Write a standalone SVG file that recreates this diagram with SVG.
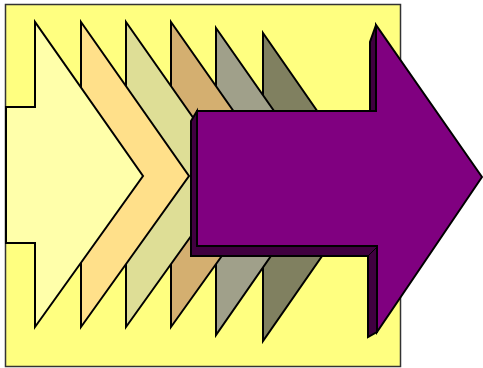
<svg xmlns="http://www.w3.org/2000/svg" width="483" height="368" viewBox="0 0 483 368">
  <style>
    .bg { fill: #FFFF80; stroke: #333333; stroke-width: 1.5; }
    .ch { stroke: #000000; stroke-width: 2; stroke-linejoin: miter; }
    .dark { fill: #400040; stroke: #000000; stroke-width: 2; stroke-linejoin: miter; }
    .front { fill: #800080; stroke: #000000; stroke-width: 2; stroke-linejoin: miter; }
  </style>
  <rect id="background" class="bg" x="5.5" y="4.5" width="395" height="362"/>
  <g id="chevron6"><polygon class="ch" fill="#808060" points="263,33 370,187 263,341"/></g>
  <g id="chevron5"><polygon class="ch" fill="#A0A08A" points="216,28 323,181 216,335"/></g>
  <g id="chevron4"><polygon class="ch" fill="#D4AF70" points="171,22 279,176 171,327"/></g>
  <g id="chevron3"><polygon class="ch" fill="#DEDE96" points="126,22 234,176 126,327"/></g>
  <g id="chevron2"><polygon class="ch" fill="#FFE08A" points="81,22 189,176 81,327"/></g>
  <g id="chevron1"><polygon class="ch" fill="#FFFFAA" points="6,107 35,107 35,22 143,176 35,327 35,243 6,243"/></g>
  <g id="big-arrow">
    <polygon class="dark" points="197,111 191,121 191,256 368,256 368,337 377,332 377,246 197,246"/>
    <polygon class="dark" points="376,25 370,42 370,111 376,111"/>
    <line x1="368" y1="256" x2="377" y2="247" stroke="#000000" stroke-width="1"/>
    <polygon class="front" points="197,111 376,111 376,25 482,177 377,332 377,246 197,246"/>
  </g>
</svg>
